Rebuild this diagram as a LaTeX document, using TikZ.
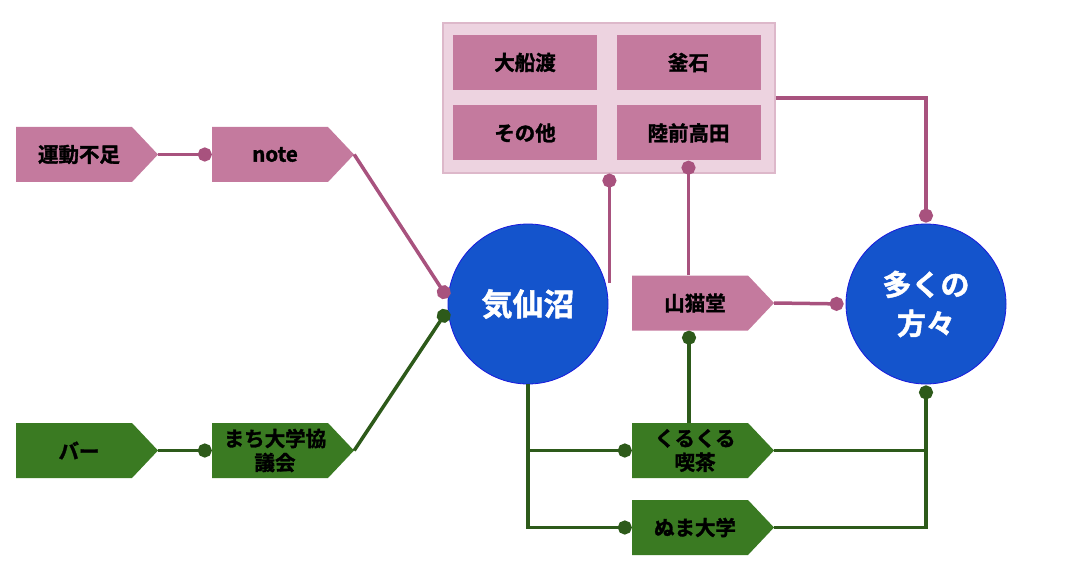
\documentclass[tikz,border=0pt]{standalone}
\usepackage{fontspec}
\setmainfont{Noto Sans CJK JP}[BoldFont={Noto Sans CJK JP Bold}, BoldFeatures={FakeBold=1.5}]
\usetikzlibrary{arrows.meta,calc}
\definecolor{pinkF}{HTML}{C47A9E}
\definecolor{pinkL}{HTML}{A8527E}
\definecolor{greenF}{HTML}{3A7A22}
\definecolor{greenL}{HTML}{2D5A1A}
\definecolor{blueF}{HTML}{1454CC}
\definecolor{blueD}{HTML}{1A1ADD}
\definecolor{groupF}{HTML}{EDD3E0}
\definecolor{groupD}{HTML}{DDB8CA}
\tikzset{
  tagbox/.style={rectangle, minimum width=142, minimum height=55, inner sep=0, draw=none},
  tagtext/.style={font=\bfseries\fontsize{20.5}{24}\selectfont, align=center, text=black, inner sep=0},
  innerbox/.style={rectangle, fill=pinkF, minimum width=144, minimum height=55, inner sep=0,
    font=\bfseries\fontsize{20.5}{24}\selectfont, text=black},
  groupbox/.style={rectangle, fill=groupF, draw=groupD, line width=1.2, minimum width=332, minimum height=150, inner sep=0},
  circ/.style={circle, fill=blueF, draw=blueD, line width=0.8, minimum size=160, inner sep=0,
    text=white, align=center},
  conn/.style={line width=3.5, -{Circle[length=14, width=14]}},
  pinkC/.style={conn, draw=pinkL},
  greenC/.style={conn, draw=greenL},
  plainG/.style={line width=3.5, draw=greenL},
}
\newcommand\tagshape[5]{%
  \fill[#4] (#2-71,#3-27.5) -- (#2+45,#3-27.5) -- (#2+71,#3) -- (#2+45,#3+27.5) -- (#2-71,#3+27.5) -- cycle;
  \node[tagbox] (#1) at (#2,#3) {};
  \node[tagtext] (#1-t) at (#2-8,#3) {#5};
}
\begin{document}
\begin{tikzpicture}[x=1pt,y=-1pt]
\useasboundingbox (0,0) rectangle (1073,588);
% group
\node[groupbox] (group) at (609,98) {};
\node[innerbox] (ofunato) at (525,62.5) {大船渡};
\node[innerbox] (kamaishi) at (688.5,62.5) {釜石};
\node[innerbox] (sonota) at (525,133) {その他};
\node[innerbox] (rikuzen) at (688.5,133) {陸前高田};
% tags
\tagshape{undo}{87}{154.5}{pinkF}{運動不足}
\tagshape{note}{283}{154.5}{pinkF}{note}
\tagshape{bar}{87}{450.5}{greenF}{バー}
\tagshape{machi}{283}{450.5}{greenF}{まち大学協\\議会}
\tagshape{yamaneko}{703}{303}{pinkF}{山猫堂}
\tagshape{kurukuru}{703}{450.5}{greenF}{くるくる\\喫茶}
\tagshape{numa}{703}{527.5}{greenF}{ぬま大学}
% circles
\node[circ, font=\bfseries\fontsize{31}{35}\selectfont] (kesen) at (528,304) {気仙沼};
\node[circ, font=\bfseries\fontsize{29}{39}\selectfont] (ooku) at (926,304) {多くの\\方々};
% connectors
\draw[pinkC, shorten >=0] (undo.east) -- (note.west);
\draw[pinkC] (note.east) -- ($(kesen.west)+(0,-6)$);
\draw[greenC, shorten >=0] (bar.east) -- (machi.west);
\draw[greenC] (machi.east) -- ($(kesen.west)+(0,6)$);
\coordinate (k1) at ($(kesen.east)+(1,-21)$);
\draw[pinkC] (k1) -- (k1 |- group.south);
\draw[pinkC] (yamaneko.north -| rikuzen.south) -- (rikuzen.south);
\draw[pinkC, shorten >=1] (group.east) -| (ooku.north);
\draw[pinkC, shorten >=2] (yamaneko.east) -- (ooku.west);
\coordinate (ys) at ($(yamaneko.south)+(-14,0)$);
\draw[greenC] (ys |- kurukuru.north) -- (ys);
\draw[greenC] (kesen.south) |- (kurukuru.west);
\draw[greenC] (kesen.south) |- (numa.west);
\draw[plainG] (kurukuru.east) -- (kurukuru.east -| ooku.south);
\draw[greenC, shorten >=1] (numa.east) -| (ooku.south);
\end{tikzpicture}
\end{document}
